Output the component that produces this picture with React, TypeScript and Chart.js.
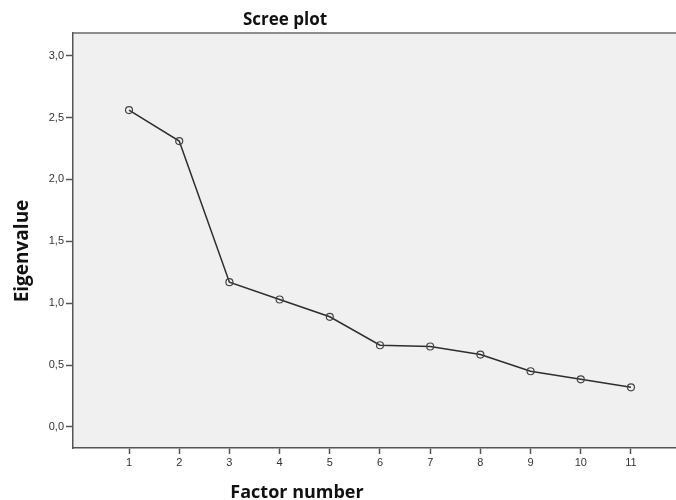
import React, { useEffect, useRef } from "react";
import { Chart, registerables } from "chart.js";

Chart.register(...registerables);

const factorNumbers = [1, 2, 3, 4, 5, 6, 7, 8, 9, 10, 11];
const eigenvalues = [2.56, 2.31, 1.17, 1.03, 0.89, 0.66, 0.65, 0.585, 0.45, 0.385, 0.32];
const yTickValues = [0, 0.5, 1, 1.5, 2, 2.5, 3];
const xTickValues = [1, 2, 3, 4, 5, 6, 7, 8, 9, 10, 11];
const chartTitle = "Scree plot";
const xTitle = "Factor number";
const yTitle = "Eigenvalue";

const W = 676;
const H = 500;

const decorPlugin = {
  id: "decor",
  beforeDraw(chart: any) {
    const { ctx, chartArea } = chart;
    ctx.save();
    ctx.fillStyle = "#f0f0f0";
    ctx.fillRect(chartArea.left, chartArea.top, chartArea.right - chartArea.left, chartArea.bottom - chartArea.top);
    ctx.restore();
  },
  afterDraw(chart: any) {
    const { ctx, chartArea } = chart;
    ctx.save();
    ctx.strokeStyle = "#6a6a6a";
    ctx.lineWidth = 1.5;
    ctx.beginPath();
    ctx.moveTo(chartArea.left, chartArea.top);
    ctx.lineTo(chartArea.right, chartArea.top);
    ctx.stroke();

    ctx.fillStyle = "#111";
    ctx.font = "bold 17px 'Open Sans', sans-serif";
    ctx.textAlign = "center";
    ctx.textBaseline = "alphabetic";
    ctx.fillText(chartTitle, 285, 25);

    ctx.font = "bold 18px 'Open Sans', sans-serif";
    ctx.fillText(xTitle, 297, 498);

    ctx.font = "bold 19px 'Open Sans', sans-serif";
    ctx.translate(28, 251);
    ctx.rotate(-Math.PI / 2);
    ctx.fillText(yTitle, 0, 0);
    ctx.restore();
  },
};

export default function App() {
  const ref = useRef<HTMLCanvasElement>(null);

  useEffect(() => {
    if (!ref.current) return;
    const chart = new Chart(ref.current, {
      type: "line",
      data: {
        datasets: [
          {
            data: factorNumbers.map((f, i) => ({ x: f, y: eigenvalues[i] })),
            borderColor: "#2e2e2e",
            borderWidth: 1.5,
            pointRadius: 3.5,
            pointBorderColor: "#444",
            pointBorderWidth: 1.2,
            pointBackgroundColor: "rgba(0,0,0,0)",
            tension: 0,
          },
        ],
      },
      options: {
        animation: false,
        responsive: false,
        layout: { autoPadding: false, padding: { top: 33, left: 0, right: 0, bottom: 0 } },
        plugins: {
          legend: { display: false },
          title: { display: false },
          tooltip: { enabled: false },
        },
        scales: {
          x: {
            type: "linear",
            min: -0.116,
            max: 11.897,
            afterBuildTicks(scale: any) {
              scale.ticks = xTickValues.map((v) => ({ value: v }));
            },
            afterFit(scale: any) {
              scale.height = 52;
              scale.paddingLeft = 0;
              scale.paddingRight = 0;
            },
            grid: {
              drawOnChartArea: false,
              drawTicks: true,
              tickLength: 6,
              tickColor: "#555",
              tickWidth: 1.5,
            },
            border: { display: true, color: "#555", width: 1.5 },
            ticks: {
              color: "#333",
              font: { family: "'Liberation Sans', Arial, sans-serif", size: 11 },
              padding: 2,
              maxRotation: 0,
              callback: (v: any) => String(v),
            },
          },
          y: {
            min: -0.17,
            max: 3.183,
            afterBuildTicks(scale: any) {
              scale.ticks = yTickValues.map((v) => ({ value: v }));
            },
            afterFit(scale: any) {
              scale.width = 73;
              scale.paddingTop = 0;
              scale.paddingBottom = 0;
            },
            grid: {
              drawOnChartArea: false,
              drawTicks: true,
              tickLength: 7,
              tickColor: "#555",
              tickWidth: 1.5,
            },
            border: { display: true, color: "#555", width: 1.5 },
            ticks: {
              color: "#333",
              font: { family: "'Liberation Sans', Arial, sans-serif", size: 11 },
              padding: 2,
              callback: (v: any) => Number(v).toFixed(1).replace(".", ","),
            },
          },
        },
      },
      plugins: [decorPlugin],
    });
    return () => chart.destroy();
  }, []);

  return (
    <div style={{ position: "absolute", left: 0, top: 0, width: W, height: H, background: "#fff", overflow: "hidden" }}>
      <canvas ref={ref} width={W} height={H} style={{ display: "block", width: W, height: H }} />
    </div>
  );
}
